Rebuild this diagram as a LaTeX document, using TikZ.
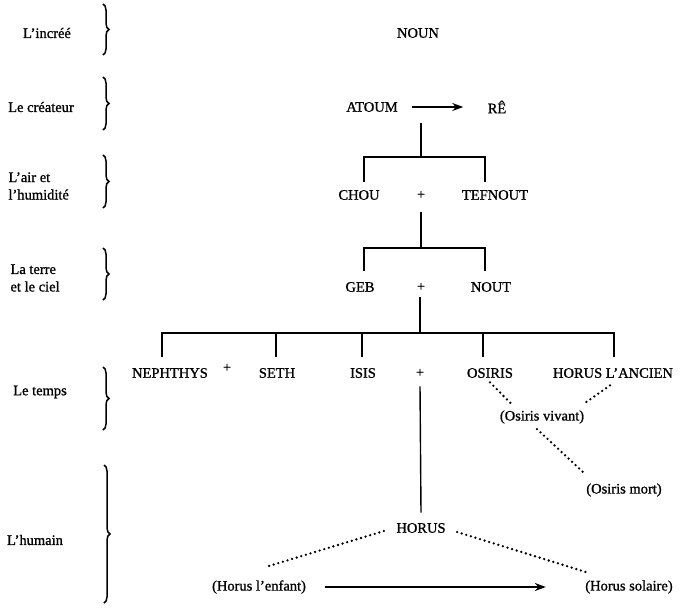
\documentclass[tikz,border=0pt]{standalone}
\usepackage{fontspec}
\setmainfont{Liberation Serif}[FakeBold=1.0]
\usetikzlibrary{arrows.meta,decorations.pathreplacing}
\begin{document}
\begin{tikzpicture}[x=1pt,y=-1pt,
  every node/.style={font=\fontsize{14.5}{17.5}\selectfont, inner sep=3.3pt},
  lbl/.style={anchor=center},
  lbl2/.style={anchor=west, align=left},
  plus/.style={font=\fontsize{14}{16}\selectfont},
  tree/.style={line width=1.4pt},
  brc/.style={decorate, decoration={brace, amplitude=6pt}, line width=1.5pt},
  arr/.style={line width=1.7pt, -{Stealth[length=11pt,width=8pt]}},
  dot/.style={line width=2.6pt, line cap=round, dash pattern=on 0pt off 4.8pt}]
\useasboundingbox (0,0) rectangle (684,608);
% left labels
\node[lbl] (l1) at (47,33) {L'incréé};
\node[lbl] (l2) at (41,107) {Le créateur};
\node[lbl2] (l3) at (5,186) {L'air et\\l'humidité};
\node[lbl2] (l4) at (7,278) {La terre\\et le ciel};
\node[lbl] (l5) at (40,392) {Le temps};
\node[lbl] (l6) at (35,540) {L'humain};
% braces
\coordinate (b1t) at (103,4);   \coordinate (b1b) at (103,55);
\coordinate (b2t) at (103,77);  \coordinate (b2b) at (103,130);
\coordinate (b3t) at (103,155); \coordinate (b3b) at (103,208);
\coordinate (b4t) at (103,248); \coordinate (b4b) at (103,300);
\coordinate (b5t) at (103,367); \coordinate (b5b) at (103,430);
\coordinate (b6t) at (104,465); \coordinate (b6b) at (104,603);
\foreach \i in {1,...,6} {\draw[brc] (b\i t) -- (b\i b);}
% main nodes
\node (noun) at (418,33) {NOUN};
\node (atoum) at (372,107) {ATOUM};
\node (re) at (497,107) {RÊ};
\node (chou) at (359,195) {CHOU};
\node[plus] (p1) at (421,195) {+};
\node (tefnout) at (495,195) {TEFNOUT};
\node (geb) at (360,287) {GEB};
\node[plus] (p2) at (421,287) {+};
\node (nout) at (491,287) {NOUT};
\node (nephthys) at (170,373) {NEPHTHYS};
\node[plus] (p3) at (227,368) {+};
\node (seth) at (277,373) {SETH};
\node (isis) at (363,373) {ISIS};
\node[plus] (p4) at (420,373) {+};
\node (osiris) at (490,373) {OSIRIS};
\node (horusa) at (613,373) {HORUS L'ANCIEN};
\node (vivant) at (542,417) {(Osiris vivant)};
\node (mort) at (624,490) {(Osiris mort)};
\node (horus) at (421,528) {HORUS};
\node (enfant) at (259,587) {(Horus l'enfant)};
\node (solaire) at (629,587) {(Horus solaire)};
% arrows
\draw[arr, shorten <=11pt, shorten >=21pt] (atoum.east) -- (re.west);
\draw[arr, shorten <=16pt, shorten >=36pt] (enfant.east) -- (solaire.west);
% tree level 1
\coordinate (v1t) at (421,123); \coordinate (v1b) at (421,157);
\coordinate (d1l) at (364,182); \coordinate (d1r) at (485,182);
\draw[tree] (v1t) -- (v1b);
\draw[tree] (d1l) -- (d1l |- v1b) -- (d1r |- v1b) -- (d1r);
% tree level 2
\coordinate (v2t) at (421,212); \coordinate (v2b) at (421,248);
\coordinate (d2l) at (364,271); \coordinate (d2r) at (485,271);
\draw[tree] (v2t) -- (v2b);
\draw[tree] (d2l) -- (d2l |- v2b) -- (d2r |- v2b) -- (d2r);
% tree level 3
\coordinate (v3t) at (420,297); \coordinate (v3b) at (420,333);
\coordinate (d3a) at (162,357); \coordinate (d3b) at (276,357);
\coordinate (d3c) at (362,357); \coordinate (d3d) at (483,357);
\coordinate (d3e) at (614,357);
\draw[tree] (v3t) -- (v3b);
\draw[tree] (d3a) -- (d3a |- v3b) -- (d3e |- v3b) -- (d3e);
\foreach \c in {d3b,d3c,d3d} {\draw[tree] (\c) -- (\c |- v3b);}
% down to Horus
\draw[tree] ([yshift=-6pt]p4.south) -- ([yshift=7pt]horus.north);
% dotted
\draw[dot] ([yshift=-1pt]osiris.south) -- ([xshift=15pt,yshift=3pt]vivant.north west);
\draw[dot] ([xshift=-3pt,yshift=-4pt]horusa.south) -- ([xshift=-4pt,yshift=3pt]vivant.north east);
\draw[dot] ([xshift=-5pt,yshift=-2pt]vivant.south) -- ([yshift=8pt]mort.north west);
\draw[dot] ([xshift=-9pt,yshift=-3pt]horus.west) -- ([xshift=7pt,yshift=10pt]enfant.north);
\draw[dot] ([xshift=8pt,yshift=-4pt]horus.east) -- ([xshift=7pt,yshift=4pt]solaire.north west);
\end{tikzpicture}
\end{document}
